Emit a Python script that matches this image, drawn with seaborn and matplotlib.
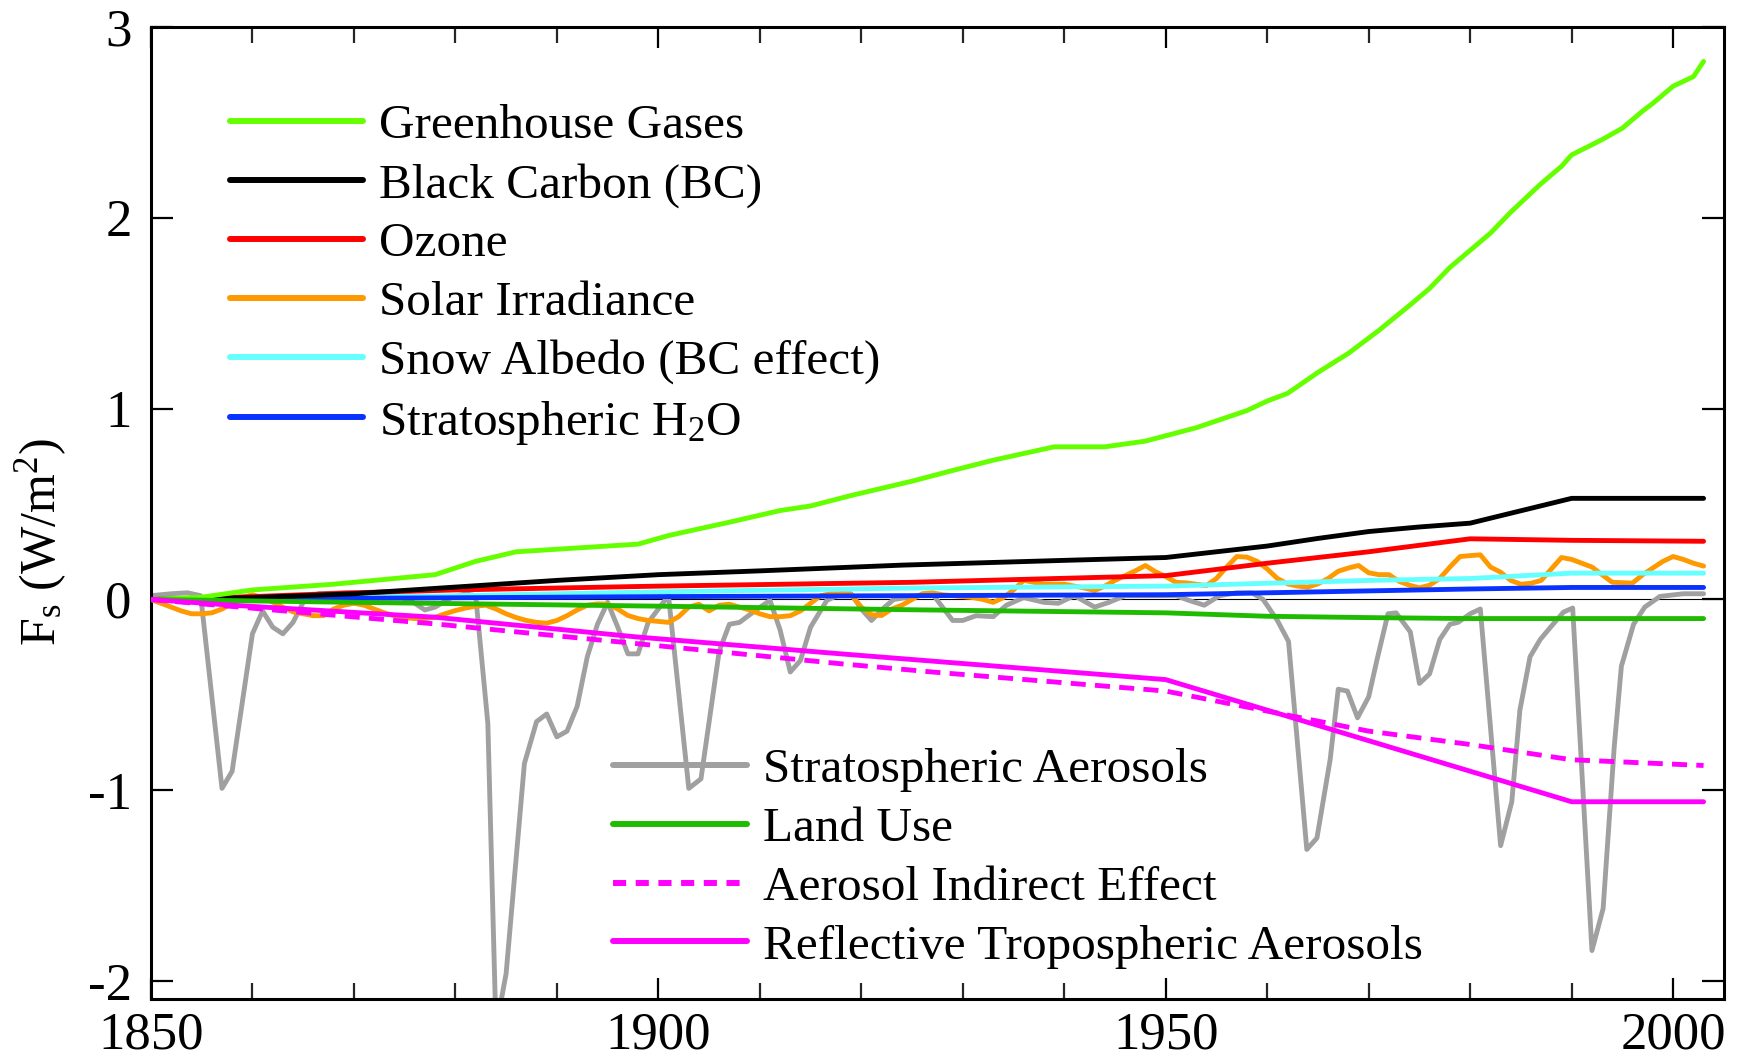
import matplotlib
matplotlib.use("Agg")
import matplotlib.pyplot as plt
import numpy as np
import pandas as pd
import seaborn as sns
from matplotlib.lines import Line2D

# ---------------- data ----------------
ghg_year = [1850, 1855, 1860, 1868, 1876, 1878, 1882, 1886, 1892, 1898, 1901, 1907,
            1912, 1915, 1919, 1925, 1929, 1933, 1939, 1944, 1948, 1953, 1958, 1960,
            1962, 1965, 1968, 1971, 1974, 1976, 1978, 1982, 1984, 1987, 1989, 1990,
            1993, 1995, 1997, 1998, 2000, 2002, 2003]
ghg_val = [0.0, 0.012, 0.05, 0.08, 0.12, 0.13, 0.20, 0.25, 0.27, 0.29, 0.335, 0.405,
           0.466, 0.49, 0.545, 0.62, 0.676, 0.73, 0.80, 0.80, 0.83, 0.90, 0.99, 1.04,
           1.08, 1.19, 1.29, 1.41, 1.54, 1.63, 1.74, 1.92, 2.03, 2.18, 2.27, 2.33,
           2.41, 2.47, 2.56, 2.60, 2.69, 2.74, 2.82]

bc_year = [1850, 1860, 1870, 1880, 1890, 1900, 1910, 1924, 1940, 1950, 1960, 1965,
           1970, 1975, 1980, 1990, 2003]
bc_val = [0.0, 0.01, 0.03, 0.065, 0.10, 0.13, 0.15, 0.18, 0.205, 0.22, 0.28, 0.32,
          0.356, 0.38, 0.40, 0.53, 0.53]

oz_year = [1850, 1860, 1870, 1880, 1900, 1925, 1950, 1960, 1970, 1980, 1990, 2003]
oz_val = [0.0, 0.015, 0.035, 0.05, 0.07, 0.09, 0.125, 0.19, 0.25, 0.318, 0.31, 0.305]

solar_year = list(range(1850, 2004))
solar_val = [0.0, -0.02, -0.04, -0.06, -0.075, -0.075, -0.07, -0.05, -0.02, 0.01,
             0.025, 0.01, -0.014, -0.04, -0.065, -0.075, -0.085, -0.085, -0.05, -0.03,
             -0.02, -0.03, -0.05, -0.07, -0.085, -0.095, -0.10, -0.10, -0.093, -0.075,
             -0.058, -0.045, -0.035, -0.03, -0.05, -0.075, -0.095, -0.11, -0.12, -0.124,
             -0.11, -0.085, -0.055, -0.03, -0.023, -0.025, -0.05, -0.084, -0.10, -0.11,
             -0.115, -0.12, -0.09, -0.04, -0.025, -0.06, -0.03, -0.025, -0.04, -0.055,
             -0.075, -0.09, -0.09, -0.085, -0.06, -0.02, 0.02, 0.03, 0.03, 0.025,
             -0.04, -0.08, -0.084, -0.05, -0.03, 0.0, 0.03, 0.035, 0.025, 0.02,
             0.015, 0.01, 0.0, -0.015, 0.01, 0.05, 0.10, 0.09, 0.08, 0.08,
             0.08, 0.07, 0.06, 0.047, 0.07, 0.10, 0.125, 0.15, 0.178, 0.145,
             0.12, 0.09, 0.087, 0.08, 0.073, 0.11, 0.17, 0.225, 0.222, 0.20,
             0.16, 0.11, 0.082, 0.07, 0.065, 0.082, 0.11, 0.148, 0.165, 0.178,
             0.14, 0.13, 0.13, 0.095, 0.075, 0.061, 0.075, 0.11, 0.17, 0.225,
             0.23, 0.234, 0.17, 0.143, 0.10, 0.08, 0.085, 0.10, 0.16, 0.22,
             0.21, 0.19, 0.17, 0.13, 0.09, 0.088, 0.086, 0.13, 0.165, 0.20,
             0.225, 0.21, 0.19, 0.175]

snow_year = [1850, 1880, 1900, 1925, 1950, 1960, 1970, 1980, 1990, 2003]
snow_val = [0.0, 0.02, 0.04, 0.06, 0.07, 0.085, 0.10, 0.11, 0.138, 0.138]

h2o_year = [1850, 1900, 1950, 1960, 1970, 1980, 1990, 2003]
h2o_val = [0.0, 0.015, 0.025, 0.035, 0.045, 0.055, 0.063, 0.063]

strat_year = [1850, 1852, 1853.6, 1854.9, 1857, 1858, 1860, 1861, 1862, 1863, 1864, 1865,
              1866.5, 1869, 1874, 1876, 1877, 1878, 1879.6, 1881, 1882, 1883.2, 1884, 1885,
              1886.8, 1888, 1889, 1890, 1891, 1892, 1893, 1894, 1895, 1896, 1897, 1898,
              1899, 1901, 1903, 1904.2, 1906, 1907, 1908, 1909.5, 1911, 1912, 1913, 1914,
              1915, 1916.6, 1918, 1919, 1920, 1921, 1922.3, 1923.2, 1925, 1927, 1928, 1929,
              1930, 1931.3, 1933, 1934.3, 1936, 1938, 1939.4, 1941, 1943, 1944.4, 1946, 1948,
              1951, 1952.3, 1953.8, 1955.3, 1957, 1958.5, 1959.6, 1961, 1962.1, 1963.9, 1964.9,
              1966.2, 1967, 1967.9, 1968.9, 1970, 1970.8, 1971.9, 1972.7, 1974.1, 1975, 1976,
              1977, 1978, 1978.8, 1980, 1981, 1983, 1984.1, 1984.9, 1985.9, 1986.9, 1988,
              1989.2, 1990.1, 1992, 1993.1, 1994.2, 1994.9, 1996.1, 1997.2, 1998.7, 2001, 2003]
strat_val = [0.02, 0.03, 0.035, 0.02, -0.99, -0.90, -0.18, -0.06, -0.145, -0.18, -0.12, -0.015,
             0.03, 0.035, 0.03, -0.02, -0.055, -0.04, 0.01, 0.03, 0.02, -0.65, -2.25, -1.96,
             -0.86, -0.64, -0.60, -0.72, -0.69, -0.56, -0.30, -0.13, -0.015, -0.145, -0.285, -0.285,
             -0.12, 0.02, -0.99, -0.94, -0.27, -0.13, -0.12, -0.06, -0.005, -0.16, -0.38, -0.32,
             -0.145, -0.005, 0.03, 0.03, -0.05, -0.11, -0.04, 0.0, 0.015, 0.03, -0.04, -0.11,
             -0.11, -0.085, -0.09, -0.03, 0.01, -0.015, -0.02, 0.02, -0.04, -0.015, 0.02, 0.02,
             0.02, -0.005, -0.03, 0.02, 0.035, 0.035, 0.0, -0.11, -0.22, -1.31, -1.25,
             -0.84, -0.47, -0.48, -0.62, -0.51, -0.32, -0.075, -0.07, -0.17, -0.44, -0.39,
             -0.21, -0.13, -0.12, -0.075, -0.05, -1.29, -1.06, -0.58, -0.30, -0.21, -0.14,
             -0.066, -0.045, -1.84, -1.62, -0.77, -0.35, -0.13, -0.04, 0.016, 0.03, 0.03]

land_year = [1850, 1870, 1900, 1925, 1950, 1960, 1970, 1980, 2003]
land_val = [0.0, -0.015, -0.035, -0.054, -0.07, -0.088, -0.095, -0.10, -0.10]

aie_year = [1850, 1878, 1898, 1918, 1927, 1950, 1960, 1970, 1980, 1990, 2003]
aie_val = [0.0, -0.128, -0.232, -0.337, -0.38, -0.48, -0.585, -0.69, -0.76, -0.84, -0.87]

rta_year = [1850, 1858, 1878, 1898, 1918, 1927, 1950, 1960, 1970, 1980, 1990, 2003]
rta_val = [0.0, -0.03, -0.093, -0.197, -0.285, -0.323, -0.42, -0.58, -0.74, -0.90, -1.06, -1.06]

labels_top = ["Greenhouse Gases", "Black Carbon (BC)", "Ozone", "Solar Irradiance",
              "Snow Albedo (BC effect)", "Stratospheric H$_2$O"]
labels_bottom = ["Stratospheric Aerosols", "Land Use", "Aerosol Indirect Effect",
                 "Reflective Tropospheric Aerosols"]

x_ticks = [1850, 1900, 1950, 2000]
y_ticks = [-2, -1, 0, 1, 2, 3]
y_ticklabels = ["-2", "-1", "0", "1", "2", "3"]

# ---------------- styling ----------------
sns.set_theme(style="white")
plt.rcParams['font.family'] = ['Liberation Serif', 'DejaVu Serif']
plt.rcParams['mathtext.fontset'] = 'custom'
plt.rcParams['mathtext.rm'] = 'Liberation Serif'
plt.rcParams['mathtext.it'] = 'Liberation Serif:italic'
plt.rcParams['mathtext.bf'] = 'Liberation Serif:bold'
plt.rcParams['axes.unicode_minus'] = False

C_GHG = "#66ff00"
C_BC = "#000000"
C_OZ = "#ff0000"
C_SOL = "#ff9900"
C_SNOW = "#66ffff"
C_H2O = "#0a32ff"
C_STRAT = "#a0a0a0"
C_LAND = "#1fbb00"
C_MAG = "#ff00ff"
DASH = (0, (3.1, 1.9))
LW = 3.5

fig = plt.figure(figsize=(17.39, 10.6), dpi=100)
ax = fig.add_axes([0.0868, 0.0575, 0.9045, 0.917])

ax.axhline(0, color="black", lw=0.8, zorder=1)

series = [
    (strat_year, strat_val, C_STRAT, "-", 2),
    (solar_year, solar_val, C_SOL, "-", 3),
    (snow_year, snow_val, C_SNOW, "-", 4),
    (h2o_year, h2o_val, C_H2O, "-", 5),
    (oz_year, oz_val, C_OZ, "-", 6),
    (bc_year, bc_val, C_BC, "-", 7),
    (ghg_year, ghg_val, C_GHG, "-", 8),
    (land_year, land_val, C_LAND, "-", 9),
    (aie_year, aie_val, C_MAG, DASH, 10),
    (rta_year, rta_val, C_MAG, "-", 11),
]
for yrs, vals, col, ls, z in series:
    df = pd.DataFrame({"year": yrs, "F": vals})
    sns.lineplot(data=df, x="year", y="F", ax=ax, color=col, linewidth=LW,
                 estimator=None, sort=False, legend=False, zorder=z)
    ax.lines[-1].set_linestyle(ls)

ax.set_xlim(1850, 2005)
ax.set_ylim(-2.094, 3.0)
ax.set_xticks(x_ticks)
ax.set_xticks(list(range(1850, 2005, 10)), minor=True)
ax.set_yticks(y_ticks)
ax.set_yticklabels(y_ticklabels)
ax.set_xlabel("")
ax.set_ylabel(r"F$_\mathrm{s}$ (W/m$^2$)", fontsize=36, color="black")
ax.yaxis.set_label_coords(-0.052, 0.47)

for sp in ax.spines.values():
    sp.set_visible(True)
    sp.set_color("black")
    sp.set_linewidth(2.2)

ax.tick_params(axis="x", which="major", direction="in", length=15, width=1.6,
               top=True, bottom=True, labelsize=38, pad=9, colors="black")
ax.tick_params(axis="x", which="minor", direction="in", length=11.5, width=1.6,
               top=True, bottom=True)
ax.tick_params(axis="y", which="major", direction="in", length=16, width=1.6,
               left=True, right=True, labelsize=38, pad=14, colors="black")
ax.grid(False)

h_top = [Line2D([], [], color=c, lw=4.3) for c in [C_GHG, C_BC, C_OZ, C_SOL, C_SNOW, C_H2O]]
h_bot = [Line2D([], [], color=C_STRAT, lw=4.3), Line2D([], [], color=C_LAND, lw=4.3),
         Line2D([], [], color=C_MAG, lw=4.3, linestyle=(0, (2.2, 1.6))),
         Line2D([], [], color=C_MAG, lw=4.3)]

leg_kw = dict(loc="upper left", frameon=False, fontsize=35.5, handlelength=2.7,
              handletextpad=0.34, labelspacing=0.29, borderpad=0, borderaxespad=0)
leg1 = ax.legend(h_top, labels_top, bbox_to_anchor=(0.05, 0.921), **leg_kw)
for t in leg1.get_texts():
    t.set_color("black")
ax.add_artist(leg1)
leg2 = ax.legend(h_bot, labels_bottom, bbox_to_anchor=(0.294, 0.2586), **leg_kw)
for t in leg2.get_texts():
    t.set_color("black")

fig.savefig("out.png", dpi=100)
